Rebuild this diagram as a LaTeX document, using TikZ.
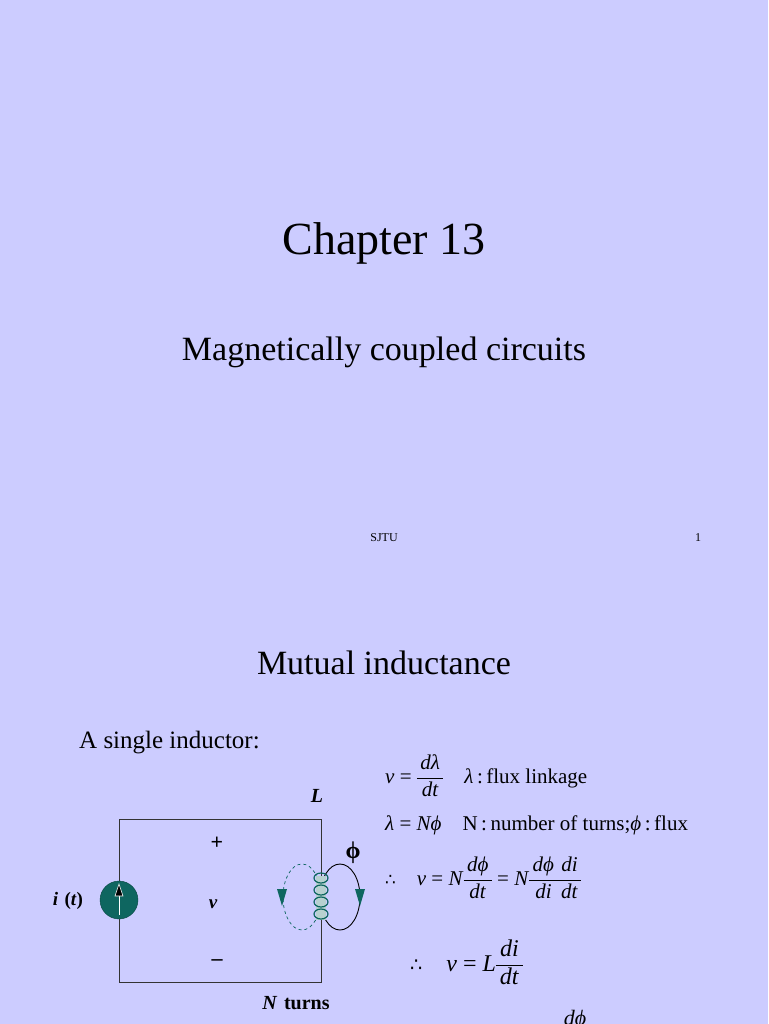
\documentclass[tikz,border=0pt]{standalone}
\usepackage{fontspec}
\setmainfont{Liberation Serif}
\newfontfamily\dejavu{DejaVu Sans}
\usetikzlibrary{arrows.meta}
\definecolor{bg}{HTML}{CCCCFF}
\definecolor{teal}{HTML}{0E6660}
\newcommand{\mi}[1]{\textit{#1}}
\newcommand{\fr}[2]{\ensuremath{\vcenter{\offinterlineskip\halign{\hfil##\hfil\cr\strut\,\mi{#1}\,\cr\noalign{\kern1pt\hrule\kern1pt}\strut\,\mi{#2}\,\cr}}}}
\newcommand{\thf}{{\dejavu\scalebox{0.8}{∴}}}
\begin{document}
\begin{tikzpicture}[x=1pt,y=-1pt,
  lbl/.style={inner sep=0pt,anchor=center},
  eq/.style={inner sep=0pt,anchor=west,font=\fontsize{21}{24}\selectfont},
  wire/.style={draw=black!80,line width=0.8pt}]
\fill[bg] (0,0) rectangle (768,1024);
\useasboundingbox (0,0) rectangle (768,1024);
\node[lbl,font=\fontsize{46}{52}\selectfont] (t1) at (384,243) {Chapter 13};
\node[lbl,font=\fontsize{34}{38}\selectfont] (t2) at (384,352) {Magnetically coupled circuits};
\node[lbl,font=\fontsize{12}{14}\selectfont] (s) at (384,538) {SJTU};
\node[lbl,font=\fontsize{12}{14}\selectfont] (p) at (698,538) {1};
\node[lbl,font=\fontsize{34}{38}\selectfont] (t3) at (384,663) {Mutual inductance};
\node[inner sep=0pt,anchor=west,font=\fontsize{25}{28}\selectfont] (t4) at (79,743) {A single inductor:};
% circuit
\coordinate (tl) at (119,819); \coordinate (tr) at (321,819);
\coordinate (bl) at (119,982); \coordinate (br) at (321,982);
\draw[wire] (tl) -- (tr) -- (br) -- (bl) -- (tl);
\node[circle,fill=teal,draw=teal!70!black,minimum size=38pt,inner sep=0pt] (src) at (119,900) {};
\draw[white,line width=1pt] (119,915) -- (119,893);
\fill[black] (119,884) -- (115,896) -- (123,896) -- cycle;
\draw[white,line width=0.6pt] (119,884) -- (115,896) -- (123,896) -- cycle;
% flux loops
\draw[teal,dashed,line width=0.7pt] (302,897) ellipse (19 and 33);
\draw[black,line width=0.9pt] (340,897) ellipse (20 and 33);
\fill[white!70!teal] (316,876) rectangle (326,920);
\foreach \y in {878,890,902,914}{
  \draw[teal,line width=1.2pt] (321,\y) ellipse (7 and 5);}
\fill[teal] (282,906) -- (277,889) -- (287,889) -- cycle;
\fill[teal] (360,906) -- (355,889) -- (365,889) -- cycle;
\node[lbl,font=\fontsize{20}{22}\selectfont\bfseries\itshape] (L) at (317,796) {L};
\node[lbl,font=\fontsize{24}{26}\selectfont\bfseries] (phi) at (353,853) {ϕ};
\node[lbl,font=\fontsize{22}{24}\selectfont\bfseries] (plus) at (217,843) {+};
\node[lbl,font=\fontsize{19}{22}\selectfont\bfseries\itshape] (v) at (213,904) {v};
\node[lbl,font=\fontsize{22}{24}\selectfont\bfseries] (minus) at (217,963) {–};
\node[lbl,font=\fontsize{19}{22}\selectfont\bfseries] (it) at (68,901) {\textit{i}\,\,(\textit{t})};
\node[lbl,font=\fontsize{20}{22}\selectfont\bfseries] (Nt) at (296,1003) {\textit{N}\,\,turns};
% equations
\node[eq] (e1) at (385,778) {\mi{v} = \fr{dλ}{dt}\quad\mi{λ}\,:\,flux linkage};
\node[eq] (e2) at (385,825) {\mi{λ} = \mi{Nϕ}\quad N\,:\,number of turns;\mi{ϕ}\,:\,flux};
\node[eq] (e3) at (385,880) {\thf\quad\mi{v} = \mi{N}\fr{dϕ}{dt} = \mi{N}\fr{dϕ}{di}\fr{di}{dt}};
\node[eq,font=\fontsize{24}{26}\selectfont] (e4) at (410,965) {\thf\quad\mi{v} = \mi{L}\fr{di}{dt}};
\node[inner sep=0pt,anchor=north,font=\fontsize{22}{24}\selectfont] (e5) at (575,1010) {\mi{dϕ}};
\end{tikzpicture}
\end{document}
